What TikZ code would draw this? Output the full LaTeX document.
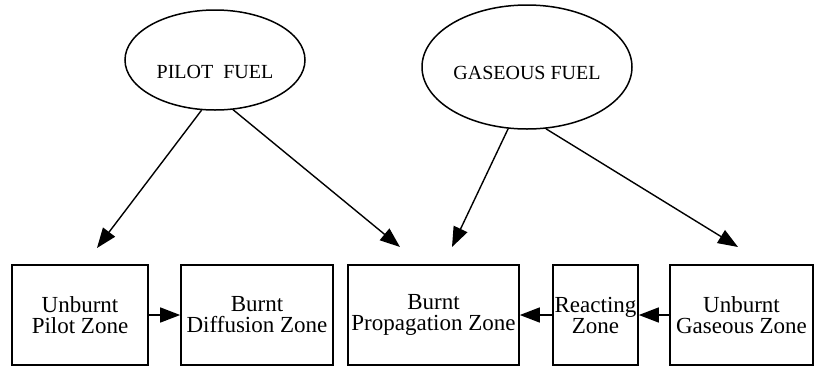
\documentclass[tikz,border=0pt]{standalone}
\usepackage{fontspec}
\setmainfont{Liberation Serif}
\usetikzlibrary{positioning,shapes,arrows.meta}
\tikzset{
zone/.style={draw, line width=1.6pt, inner sep=0pt, align=center, minimum height=100pt, font=\fontsize{23}{21}\selectfont},
fuel/.style={draw, ellipse, line width=1.5pt, inner sep=0pt},
fuellabel/.style={font=\fontsize{20}{22}\selectfont, yshift=-12pt},
flow/.style={-{Triangle[length=20pt,width=15pt]}, line width=1.4pt}
}

\begin{document}
\begin{tikzpicture}[x=1pt,y=-1pt]
  \useasboundingbox (0,0) rectangle (815,368);
  \node[fuel, minimum width=180pt, minimum height=100pt, label={[fuellabel]center:PILOT\ \ FUEL}] (pilot) at (215,60) {};
  \node[fuel, minimum width=210pt, minimum height=124pt, label={[fuellabel, yshift=6pt]center:GASEOUS FUEL}] (gas) at (527,67) {};
  \node[zone, minimum width=136pt] (unpilot) at (80,315) {Unburnt\\Pilot Zone};
  \node[zone, minimum width=152pt] (diff) at (257,315) {Burnt\\Diffusion Zone};
  \node[zone, minimum width=171pt] (prop) at (433.5,315) {Burnt\\Propagation Zone};
  \node[zone, minimum width=85pt] (react) at (595.5,315) {Reacting\\Zone};
  \node[zone, minimum width=143pt] (ungas) at (741.5,315) {Unburnt\\Gaseous Zone};
  % free ends of the fuel arrows
  \coordinate (a1) at (97,248);
  \coordinate (a2) at (400,247);
  \coordinate (a3) at (452,247);
  \coordinate (a4) at (738,247);
  \draw[flow] (pilot.255) -- (a1);
  \draw[flow] (pilot.290) -- (a2);
  \draw[flow] (gas.253) -- (a3);
  \draw[flow] (gas.287) -- (a4);
  \draw[flow] (unpilot) -- (diff);
  \draw[flow] (react) -- (prop);
  \draw[flow] (ungas) -- (react);
\end{tikzpicture}
\end{document}
